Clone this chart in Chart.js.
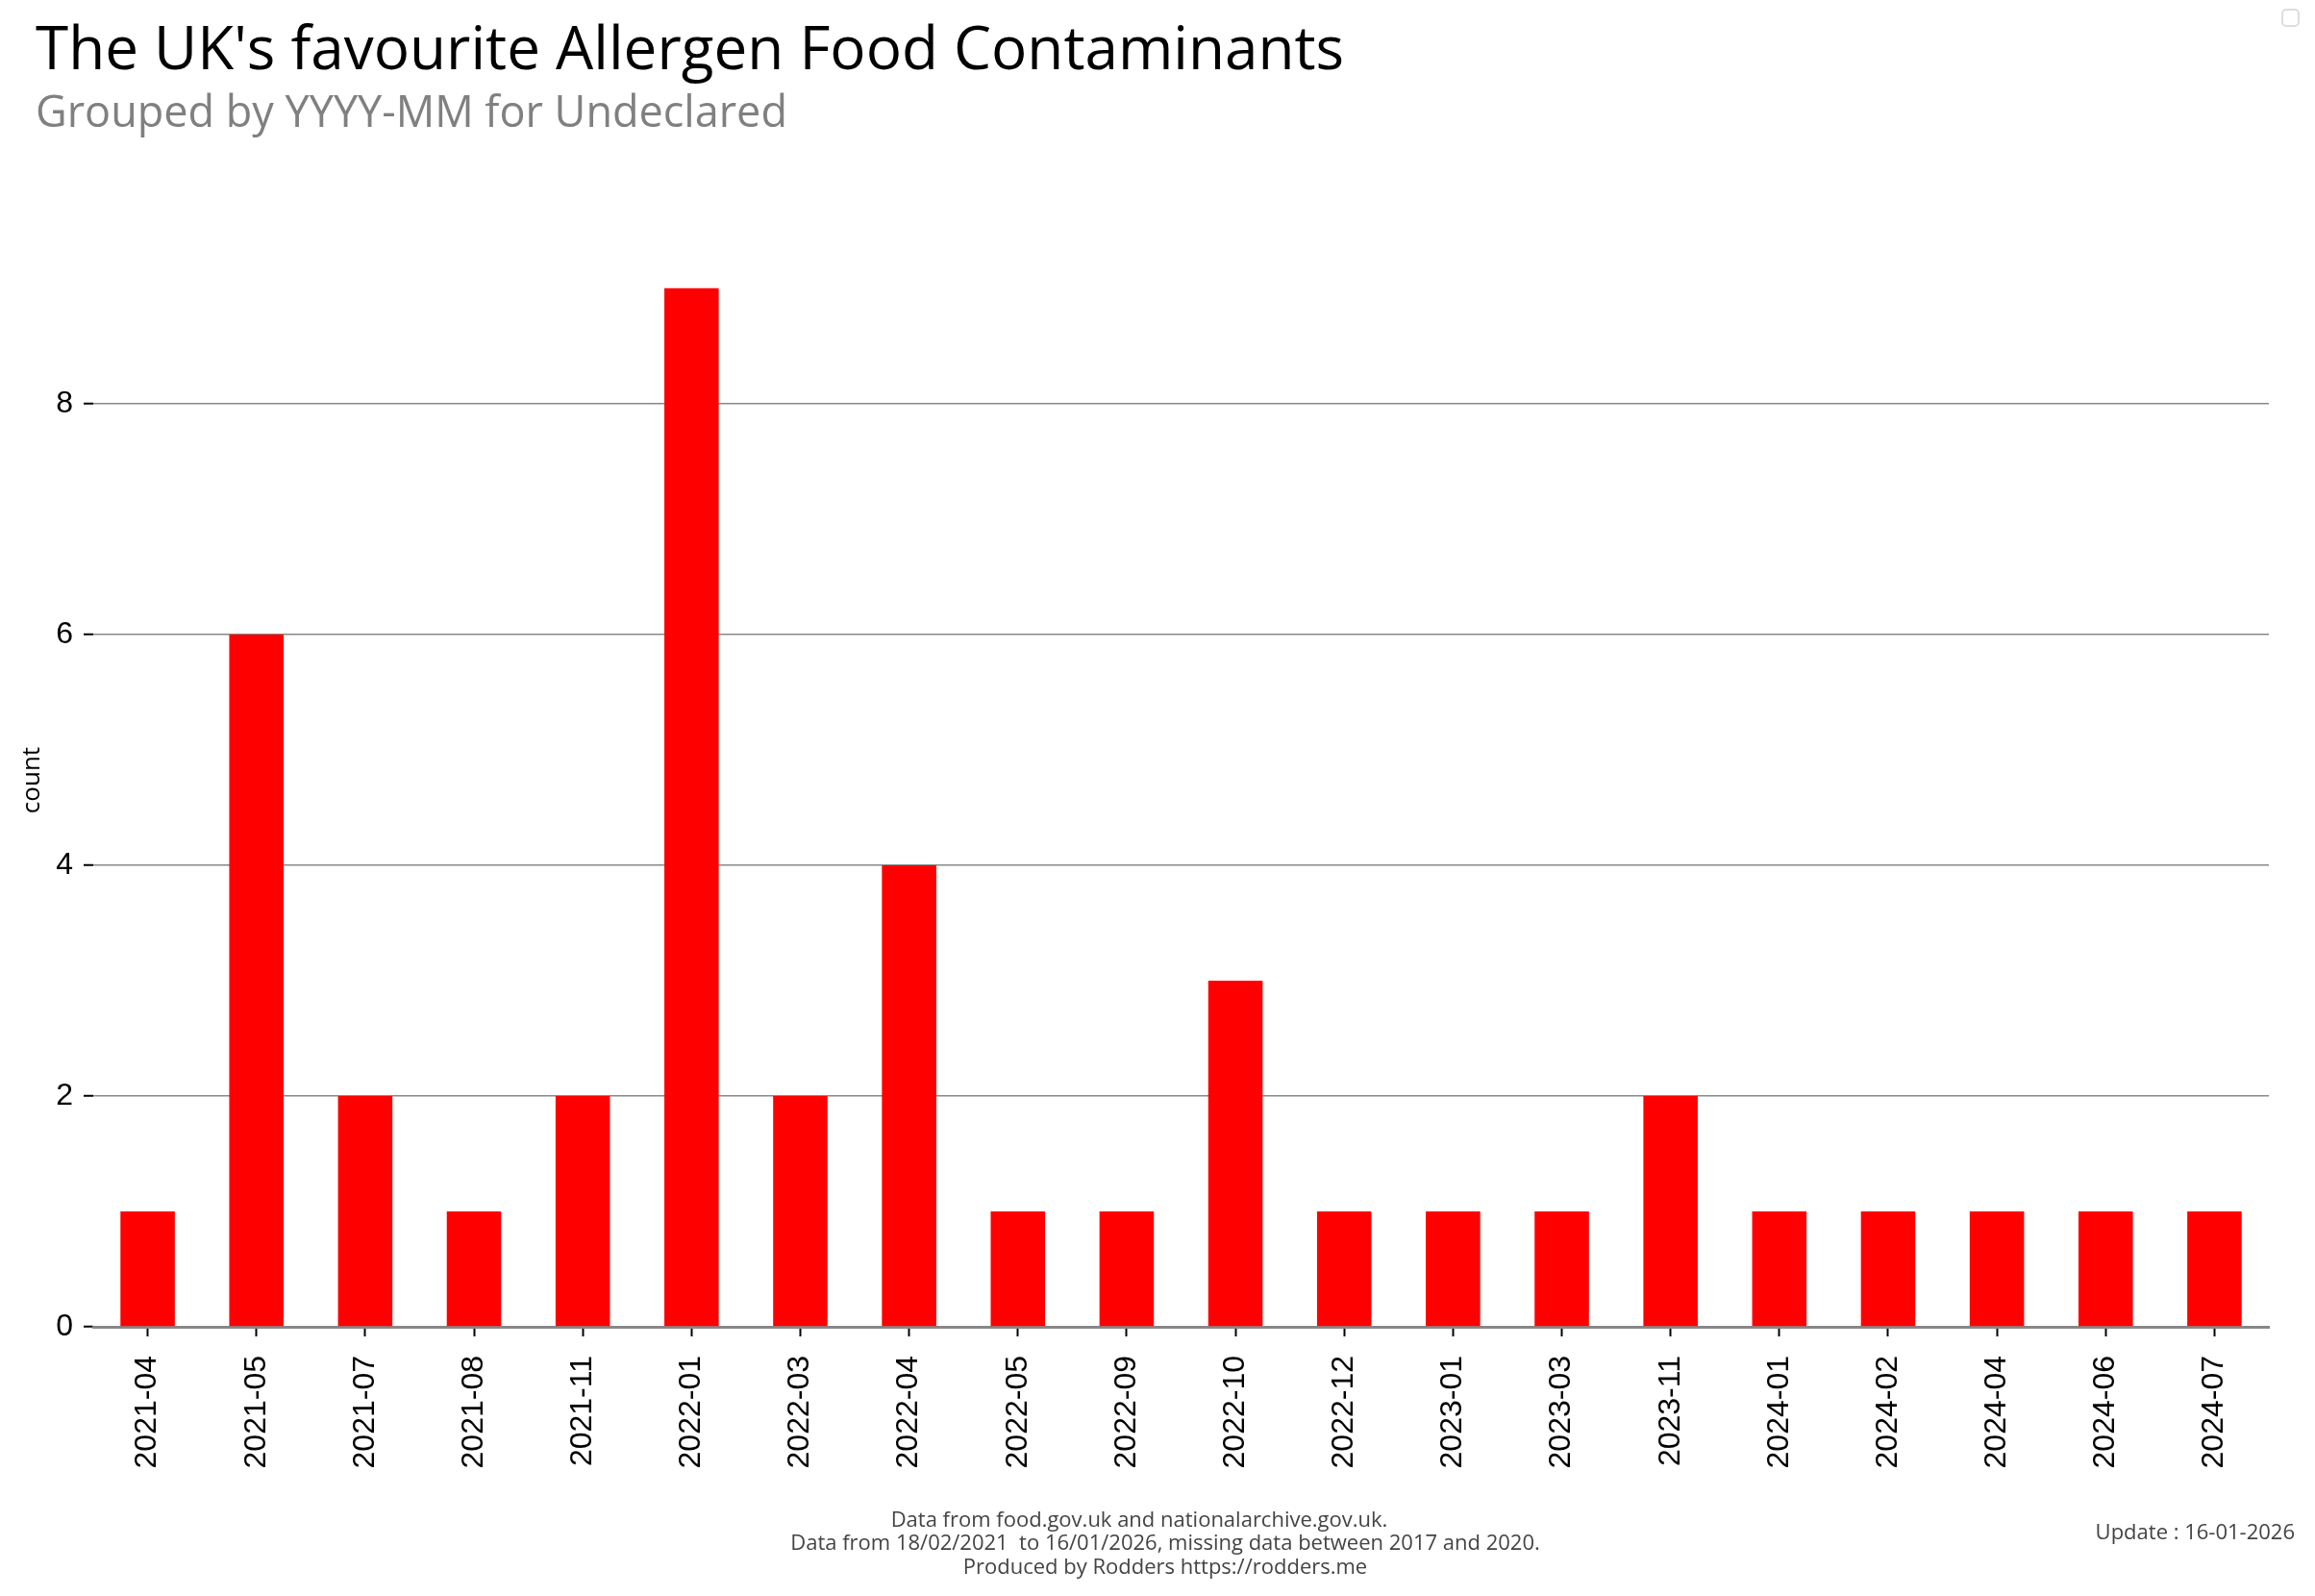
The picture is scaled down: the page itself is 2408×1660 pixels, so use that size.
<!DOCTYPE html>
<html>
<head>
<meta charset="utf-8">
<script src="https://cdn.jsdelivr.net/npm/chart.js@4/dist/chart.umd.min.js"></script>
<style>
    html, body { margin: 0; padding: 0; background: #fff; }
    #wrap { position: relative; width: 2408px; height: 1660px; overflow: hidden; }
    #chart { position: absolute; left: 0; top: 0; }
    .txt { position: absolute; font-family: "Open Sans", sans-serif; white-space: pre; line-height: 1; }
    #title { left: 37px; top: 17px; font-size: 62px; color: #000; }
    #subtitle { left: 37px; top: 92px; font-size: 45px; color: #808080; }
    .foot { font-size: 22px; color: #444; transform: translateX(-50%); }
    #update { right: 21px; top: 1581px; font-size: 22px; color: #444; }
    #toggle { position: absolute; left: 2373px; top: 9px; width: 19px; height: 19px;
        border: 2px solid #ddd; border-radius: 5px; box-sizing: border-box; }
</style>
</head>
<body>
<div id="wrap">
    <canvas id="chart" width="2408" height="1660"></canvas>
    <div class="txt" id="title">The UK's favourite Allergen Food Contaminants</div>
    <div class="txt" id="subtitle">Grouped by YYYY-MM for Undeclared</div>
    <div class="txt foot" style="left:1185px; top:1568px;">Data from food.gov.uk and nationalarchive.gov.uk.</div>
    <div class="txt foot" style="left:1212px; top:1592px;">Data from 18/02/2021  to 16/01/2026, missing data between 2017 and 2020.</div>
    <div class="txt foot" style="left:1212px; top:1617px;">Produced by Rodders https://rodders.me</div>
    <div class="txt" id="update">Update : 16-01-2026</div>
    <div id="toggle"></div>
</div>
<script>
const months = ['2021-04', '2021-05', '2021-07', '2021-08', '2021-11', '2022-01', '2022-03', '2022-04',
    '2022-05', '2022-09', '2022-10', '2022-12', '2023-01', '2023-03', '2023-11', '2024-01',
    '2024-02', '2024-04', '2024-06', '2024-07'];
const counts = [1, 6, 2, 1, 2, 9, 2, 4, 1, 1, 3, 1, 1, 1, 2, 1, 1, 1, 1, 1];
const yTicks = [0, 2, 4, 6, 8];

const tickFont = { family: '"Liberation Sans", Arial, sans-serif', size: 32 };

const ctx = document.getElementById('chart');

const chart = new Chart(ctx, {
    type: 'bar',
    data: {
        labels: months,
        datasets: [
            {
                label: 'count',
                data: counts,
                backgroundColor: '#ff0000',
                borderWidth: 0,
                barPercentage: 0.5,
                categoryPercentage: 1.0
            }
        ]
    },
    options: {
        responsive: false,
        animation: false,
        layout: {
            padding: { left: 0, top: 243, right: 48, bottom: 0 }
        },
        plugins: {
            legend: { display: false },
            tooltip: { enabled: false },
            title: { display: false }
        },
        scales: {
            x: {
                type: 'category',
                offset: true,
                afterFit: (scale) => { scale.height = 280; },
                grid: {
                    offset: false,
                    drawOnChartArea: false,
                    drawTicks: true,
                    tickLength: 10,
                    tickColor: '#000',
                    tickWidth: 2
                },
                border: {
                    display: true,
                    color: '#888',
                    width: 3
                },
                ticks: {
                    color: '#000',
                    font: tickFont,
                    minRotation: 90,
                    maxRotation: 90,
                    autoSkip: false,
                    padding: 20
                }
            },
            y: {
                type: 'linear',
                min: 0,
                max: 9.4737,
                afterFit: (scale) => { scale.width = 97; },
                afterBuildTicks: (scale) => {
                    scale.ticks = yTicks.map(v => ({ value: v }));
                },
                border: { display: false },
                grid: {
                    color: (c) => (c.tick && c.tick.value === 0) ? 'rgba(0,0,0,0)' : '#888',
                    lineWidth: 1.5,
                    drawTicks: true,
                    tickLength: 10,
                    tickColor: '#000',
                    tickWidth: 2
                },
                ticks: {
                    color: '#000',
                    font: tickFont,
                    padding: 11
                },
                title: {
                    display: true,
                    text: 'count',
                    color: '#000',
                    font: { family: '"Open Sans", sans-serif', size: 26 },
                    padding: { top: 18, bottom: 0 }
                }
            }
        }
    }
});
</script>
</body>
</html>
